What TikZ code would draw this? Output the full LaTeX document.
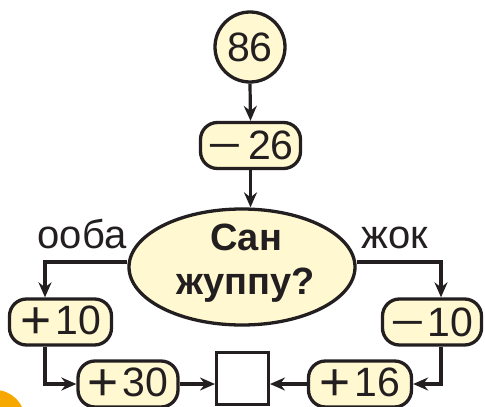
\documentclass[tikz,border=0pt]{standalone}
\usepackage{fontspec}
\setmainfont{Liberation Sans}
\usepackage{graphicx}
\usetikzlibrary{shapes.geometric,arrows.meta}
\definecolor{cream}{RGB}{255,248,208}
\definecolor{ink}{RGB}{35,31,32}
\definecolor{badge}{RGB}{246,168,0}
\newcommand\plussign{\raisebox{-3.5pt}{\scalebox{1.3}{+}}}
\newcommand\minussign{\scalebox{1.45}[1]{−}}
\begin{document}
\begin{tikzpicture}[x=1pt,y=-1pt,
  opbox/.style={draw=ink, line width=3.3pt, fill=cream, rounded corners=17pt,
    minimum height=46pt, minimum width=100pt, inner sep=0pt,
    font=\fontsize{41}{44}\selectfont, text=ink},
  arr/.style={draw=ink, line width=3.2pt, -{Stealth[length=15pt,width=13pt,inset=5pt]}},
  lbl/.style={font=\fontsize{40}{44}\selectfont, text=ink, inner sep=0pt}]
\useasboundingbox (0,0) rectangle (485,407);
\begin{scope}
  \clip (0,0) rectangle (485,407);
  \fill[badge] (-5,420) circle (30);
  % nodes
  \node[draw=ink, line width=3.3pt, fill=cream, circle, minimum size=70pt, inner sep=0pt,
        font=\fontsize{41}{44}\selectfont, text=ink] (c86) at (250,47) {86};
  \node[opbox] (m26) at (250.5,145.5) {\minussign\hspace{6pt}26};
  \node[draw=ink, line width=3.3pt, fill=cream, ellipse, minimum width=226pt, minimum height=116pt,
        inner sep=0pt] (e) at (242,267) {};
  \node[font=\bfseries\fontsize{38}{44}\selectfont, text=ink, align=center, inner sep=0pt]
        (q) at (246,263) {Сан\\жуппу?};
  \node[opbox, minimum width=102pt] (p10) at (60.5,322) {\plussign\hspace{4pt}10};
  \node[opbox, minimum width=99pt] (m10) at (432,322) {\minussign\hspace{2pt}10};
  \node[opbox] (p30) at (128,384) {\plussign\hspace{4pt}30};
  \node[opbox, minimum width=103pt] (p16) at (360,384) {\plussign\hspace{4pt}16};
  \node[draw=ink, line width=3pt, fill=white, minimum width=52pt, minimum height=52pt,
        inner sep=0pt] (sq) at (242.5,378.5) {};
  \node[lbl, anchor=base] (yes) at (82,248) {ооба};
  \node[lbl, anchor=base] (no) at (395,248) {жок};
  % connectors
  \draw[arr] (c86.south) -- (m26.north);
  \draw[arr] (m26.south) -- (m26.south |- e.north);
  \draw[arr] ([yshift=5pt]e.west) -| ([xshift=-15.5pt]p10.north);
  \draw[arr] ([yshift=5pt]e.east) -| ([xshift=9pt]m10.north);
  \draw[arr] ([xshift=-15.5pt]p10.south) |- (p30.west);
  \draw[arr] ([xshift=9pt]m10.south) |- (p16.east);
  \draw[arr] (p30.east) -- (p30.east -| sq.west);
  \draw[arr] (p16.west) -- (p16.west -| sq.east);
\end{scope}
\end{tikzpicture}
\end{document}
